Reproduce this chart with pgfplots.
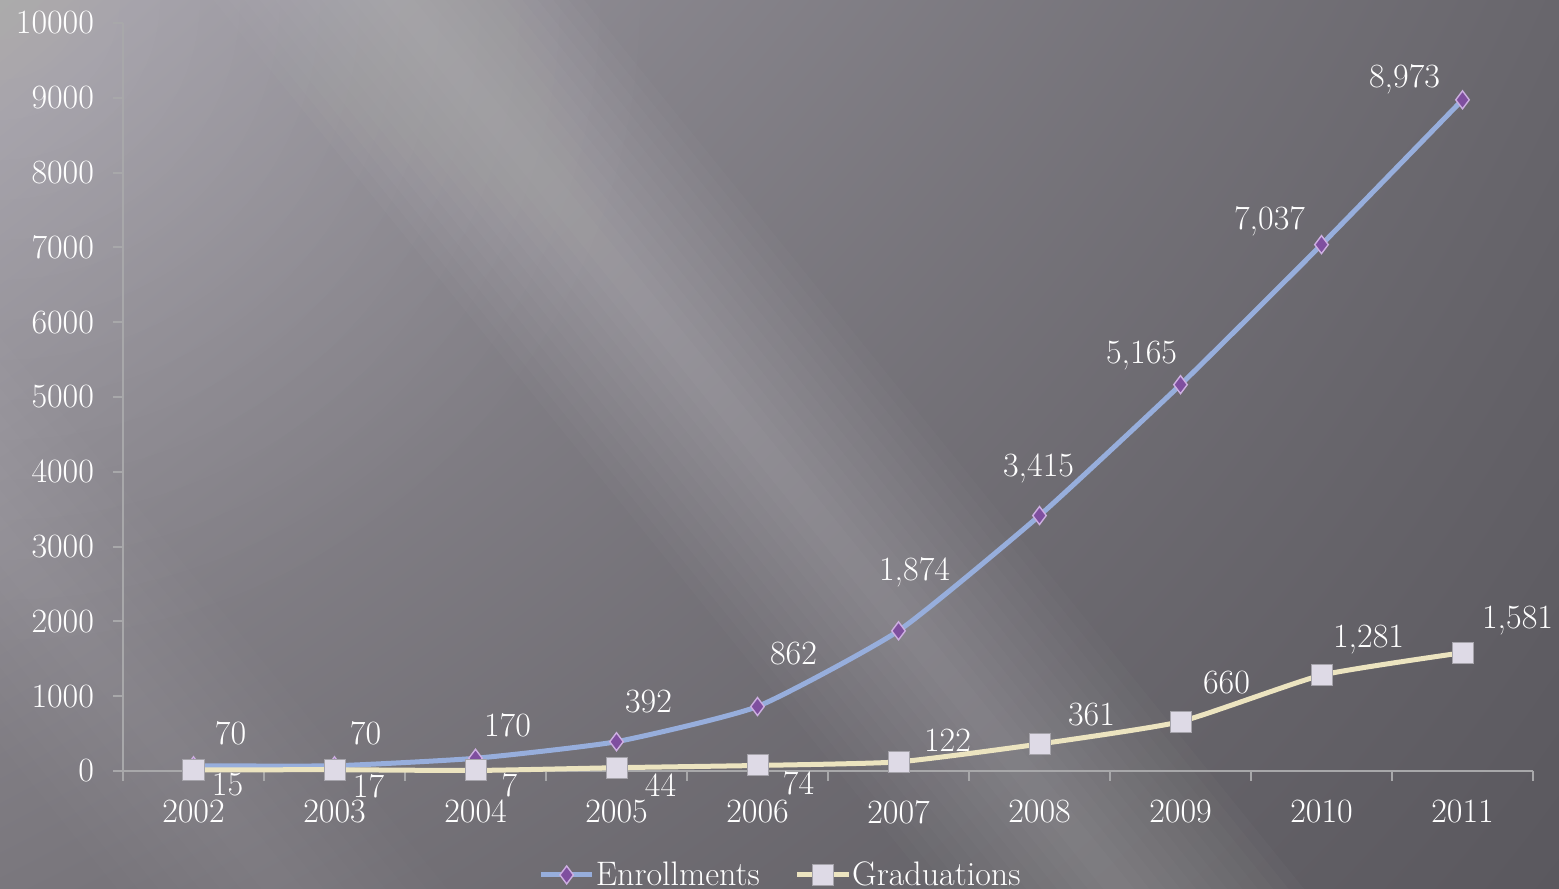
\documentclass[border=0pt]{standalone}
\usepackage{pgfplots}
\usepackage{pgfplotstable}
\pgfplotsset{compat=1.18}
\usetikzlibrary{shadings}

\definecolor{bgUL}{RGB}{158,155,163}
\definecolor{bgUR}{RGB}{104,102,108}
\definecolor{bgLL}{RGB}{122,119,125}
\definecolor{bgLR}{RGB}{90,88,94}
\definecolor{enrollLine}{RGB}{151,174,220}
\definecolor{enrollMark}{RGB}{127,79,159}
\definecolor{enrollEdge}{RGB}{205,175,225}
\definecolor{gradLine}{RGB}{236,228,192}
\definecolor{gradMark}{RGB}{222,218,230}
\definecolor{gradEdge}{RGB}{165,163,170}
\definecolor{axgray}{RGB}{168,168,170}

% year index, value, label offset (pt)
\pgfplotstableread{
x y dx dy
0 70 18.5 16.5
1 70 15.5 16.5
2 170 16 16.5
3 392 16 20
4 862 18 26.5
5 1874 8 29.5
6 3415 -0.5 23.5
7 5165 -19.5 14.5
8 7037 -26 11.5
9 8973 -29 10.5
}\enrollments
\pgfplotstableread{
x y dx dy
0 15 17 -7.5
1 17 17 -8.5
2 7 17 -7.5
3 44 22 -8.5
4 74 20.5 -8.75
5 122 24.5 11
6 361 26 14.5
7 660 23 19.5
8 1281 23.5 18
9 1581 27.5 16
}\graduations

\newcommand{\chartfont}{\fontsize{17}{20}\selectfont}

\begin{document}
\begin{tikzpicture}
\useasboundingbox (-61.5pt,-59pt) rectangle (718pt,385.5pt);
% background
\begin{scope}
\clip (-61.5pt,-59pt) rectangle (718pt,385.5pt);
\shade[upper left=bgUL, upper right=bgUR, lower left=bgLL, lower right=bgLR]
  (-61.5pt,-59pt) rectangle (718pt,385.5pt);
\foreach \r in {20,40,...,320}
  \fill[white, opacity=0.011] (-61.5pt,385.5pt) circle (\r pt);
\begin{scope}[shift={(263.5pt,230.5pt)}, rotate=-51]
\foreach \w in {6,12,...,72}
  \fill[white, opacity=0.018] (-700pt,-\w pt) rectangle (700pt,\w pt);
\end{scope}
\begin{scope}[shift={(40pt,-10pt)}, rotate=-51]
\foreach \w in {8,16,...,64}
  \fill[white, opacity=0.012] (-400pt,-\w pt) rectangle (400pt,\w pt);
\end{scope}
\end{scope}

\begin{axis}[
  at={(0,0)}, anchor=south west,
  scale only axis, width=705pt, height=374pt,
  xmin=-0.5, xmax=9.5, ymin=0, ymax=10000,
  axis lines=left,
  axis line style={draw=axgray, line width=1pt, -},
  xtick={0,...,9},
  xticklabels={2002,2003,2004,2005,2006,2007,2008,2009,2010,2011},
  major x tick style={draw=none},
  minor xtick={-0.5,0.5,...,9.5},
  ytick={0,1000,...,10000},
  tick align=outside,
  major tick length=5pt, minor tick length=5pt,
  tick style={draw=axgray, line width=1pt},
  scaled y ticks=false,
  /pgf/number format/assume math mode=true,
  yticklabel style={/pgf/number format/1000 sep={}, xshift=-6pt},
  xticklabel style={yshift=-6pt},
  ticklabel style={text=white, font=\chartfont},
  clip=false,
  legend style={at={(0.466,-0.139)}, anchor=center, draw=none, fill=none,
    text=white, font=\chartfont, legend columns=2,
    /tikz/every even column/.append style={column sep=17pt},
    nodes={inner sep=0.5pt}},
  legend image code/.code={\draw[#1, mark repeat=2, mark phase=2]
    plot coordinates {(0cm,0cm) (0.45cm,0cm) (0.9cm,0cm)};},
  nodes near coords={\pgfmathprintnumber[1000 sep={,}]{\pgfplotspointmeta}},
  point meta=y,
  visualization depends on={\thisrow{dx}\as\dx},
  visualization depends on={\thisrow{dy}\as\dy},
  every node near coord/.append style={anchor=center, xshift=\dx pt,
    yshift=\dy pt, text=white, font=\chartfont, inner sep=0pt},
]
\addplot[enrollLine, line width=2.5pt, smooth, tension=0.3, mark=diamond*,
  mark size=4.5pt,
  mark options={fill=enrollMark, draw=enrollEdge, line width=0.7pt, solid}]
  table[x=x, y=y] {\enrollments};
\addlegendentry{Enrollments}
\addplot[gradLine, line width=2.5pt, smooth, tension=0.3, mark=square*,
  mark size=5.25pt,
  mark options={fill=gradMark, draw=gradEdge, line width=0.5pt, solid}]
  table[x=x, y=y] {\graduations};
\addlegendentry{Graduations}
\end{axis}
\end{tikzpicture}
\end{document}
